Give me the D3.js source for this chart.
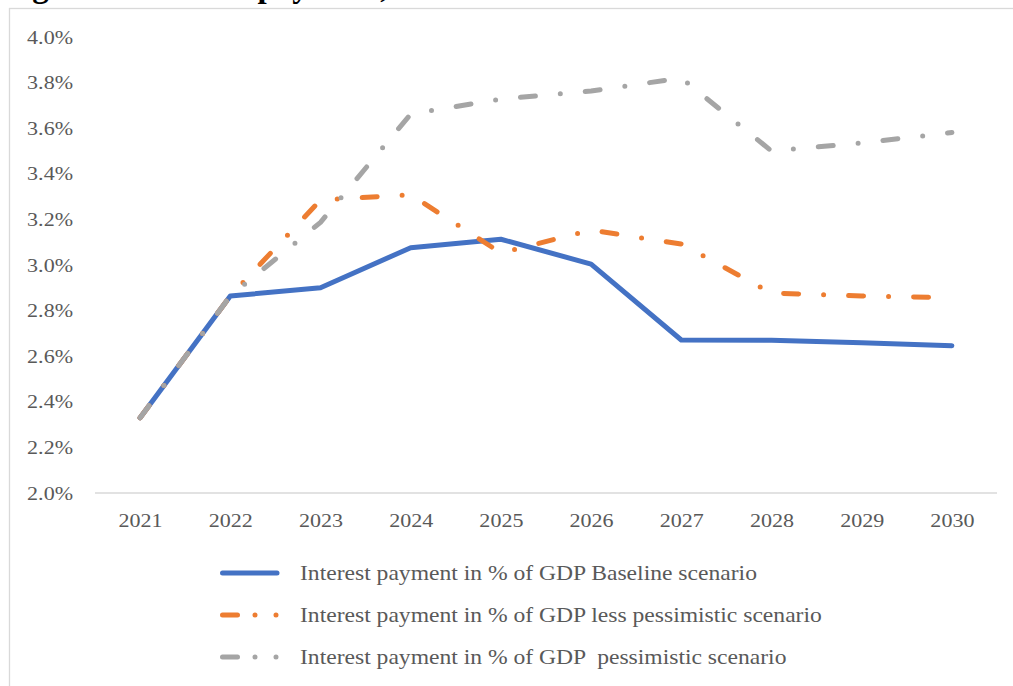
<!DOCTYPE html>
<html><head><meta charset="utf-8">
<script src="https://cdn.jsdelivr.net/npm/d3@7"></script>
<style>
html,body{margin:0;padding:0;background:#fff;overflow:hidden;}
svg{display:block;font-family:"Liberation Serif","DejaVu Serif",serif;}
</style></head>
<body>
<svg id="chart" width="1013" height="686"></svg>
<script>
const titleText = "Figure 5: Interest payment, 2021-2030";
const years = ["2021","2022","2023","2024","2025","2026","2027","2028","2029","2030"];
const baseline = [2.33, 2.864, 2.900, 3.076, 3.113, 3.004, 2.671, 2.670, 2.659, 2.646];
const lessPessimistic = [2.33, 2.864, 3.285, 3.308, 3.053, 3.153, 3.092, 2.877, 2.864, 2.857];
const pessimistic = [2.33, 2.864, 3.187, 3.662, 3.728, 3.763, 3.820, 3.500, 3.535, 3.581];
const seriesNames = [
  "Interest payment in % of GDP Baseline scenario",
  "Interest payment in % of GDP less pessimistic scenario",
  "Interest payment in % of GDP  pessimistic scenario"
];
const yTicks = [2.0, 2.2, 2.4, 2.6, 2.8, 3.0, 3.2, 3.4, 3.6, 3.8, 4.0];

const series = [
  {name: seriesNames[0], values: baseline, color: "#4472C4", dash: null},
  {name: seriesNames[1], values: lessPessimistic, color: "#ED7D31", dash: "15 25 0 25"},
  {name: seriesNames[2], values: pessimistic, color: "#A5A5A5", dash: "15 25 0 25"}
];

const svg = d3.select("#chart");

// partially visible caption at top (cut off by the page edge, as in the source)
svg.append("text").attr("x", 3).attr("y", -3)
  .attr("font-size", 33).attr("font-weight", "bold").attr("fill", "#000")
  .text(titleText);

// chart area border
svg.append("rect").attr("x", 9.5).attr("y", 8.5).attr("width", 1100).attr("height", 800)
  .attr("fill", "#fff").attr("stroke", "#d9d9d9").attr("stroke-width", 1.3);

const x = d3.scalePoint().domain(years).range([95, 997]).padding(0.5);
const y = d3.scaleLinear().domain([2.0, 4.0]).range([493, 37]);

// y axis labels
const yAxis = d3.axisLeft(y).tickValues(yTicks).tickSize(0).tickPadding(0)
  .tickFormat(d => d.toFixed(1) + "%");
const gy = svg.append("g").attr("transform", "translate(73,0)").call(yAxis);
gy.select(".domain").remove();
gy.selectAll("text").attr("font-size", 19).attr("fill", "#595959")
  .attr("font-family", "Liberation Serif, serif")
  .attr("transform", "scale(1.16,1)");

// x axis
const xAxis = d3.axisBottom(x).tickSize(0).tickPadding(0);
const gx = svg.append("g").attr("transform", "translate(0,493)").call(xAxis);
gx.select(".domain").attr("stroke", "#d9d9d9").attr("stroke-width", 1.5)
  .attr("d", "M95,0H997");
gx.selectAll("text").attr("font-size", 19).attr("fill", "#595959")
  .attr("dy", "1.15em").attr("y", 12)
  .attr("font-family", "Liberation Serif, serif")
  .attr("transform", "scale(1.16,1)");

// lines (baseline first, pessimistic drawn on top)
const line = d3.line().x((d, i) => x(years[i])).y(d => y(d));
series.forEach(s => {
  svg.append("path").datum(s.values)
    .attr("d", line)
    .attr("fill", "none")
    .attr("stroke", s.color)
    .attr("stroke-width", 5)
    .attr("stroke-linecap", "round")
    .attr("stroke-linejoin", "round")
    .attr("stroke-dasharray", s.dash);
});

// legend
const legendY = [573, 615, 657];
const legendDash = [null, "15 17.5 0 21 0 200", "15 17.5 0 21 0 200"];
series.forEach((s, i) => {
  const g = svg.append("g");
  g.append("line").attr("x1", 222.5).attr("x2", 277)
    .attr("y1", legendY[i]).attr("y2", legendY[i])
    .attr("stroke", s.color).attr("stroke-width", 5)
    .attr("stroke-linecap", "round")
    .attr("stroke-dasharray", legendDash[i]);
  g.append("text")
    .attr("transform", `translate(300,${legendY[i]}) scale(1.18,1)`)
    .attr("dy", "0.35em")
    .attr("font-size", 20).attr("fill", "#595959")
    .style("white-space", "pre")
    .text(s.name);
});
</script>
</body></html>
